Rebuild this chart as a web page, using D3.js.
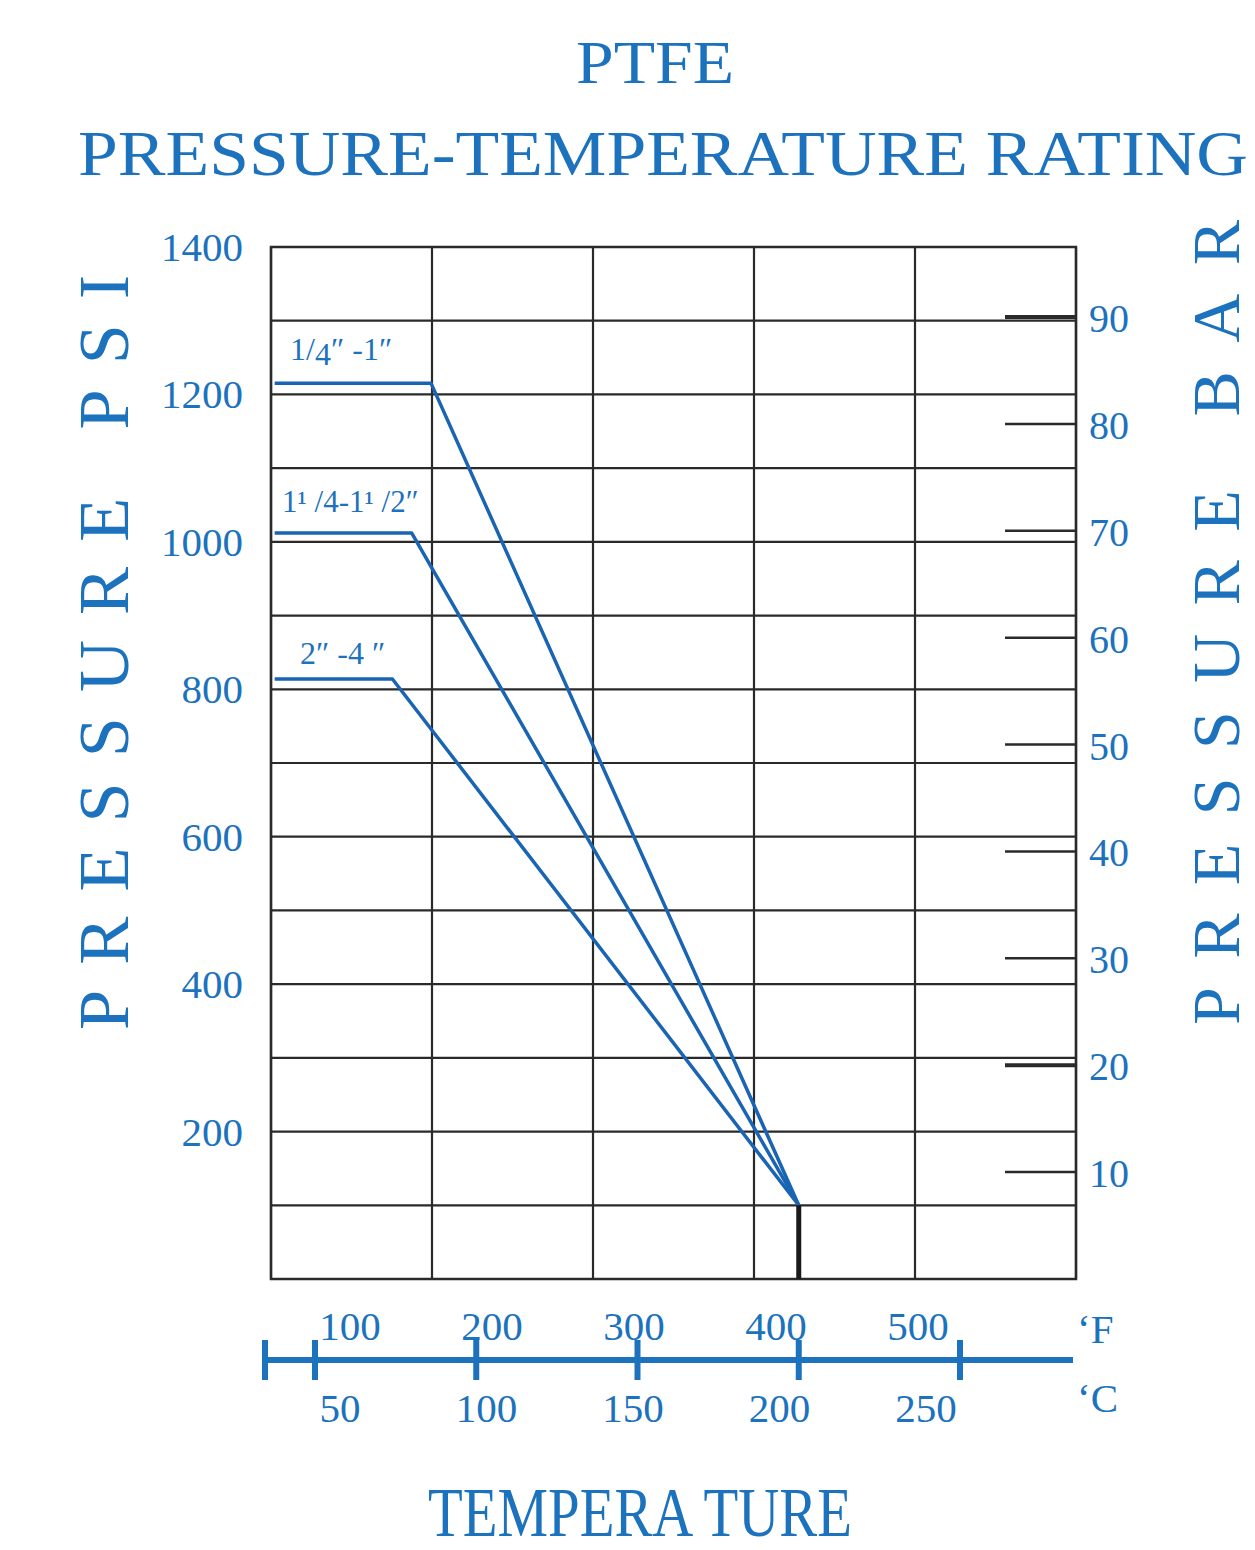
<!DOCTYPE html>
<html>
<head>
<meta charset="utf-8">
<script src="https://cdn.jsdelivr.net/npm/d3@7"></script>
<style>
  body { margin: 0; background: #fff; }
  text { font-family: "Liberation Serif", "DejaVu Serif", serif; }
</style>
</head>
<body>
<script>
// data
const psiTicks = [200, 400, 600, 800, 1000, 1200, 1400]
const barTicks = [10, 20, 30, 40, 50, 60, 70, 80, 90]
const celsiusTicks = [50, 100, 150, 200, 250]
const fahrenheitTicks = [100, 200, 300, 400, 500]
const seriesNames = ['1/4-1', '11/4-11/2', '2-4']
// each series: start temp (C), knee temp (C), end temp (C)
const seriesTemps = [
  [37.5, 86, 200],
  [37.5, 80, 200],
  [37.5, 74, 200]
]
const seriesPsi = [
  [1215, 1215, 100],
  [1012, 1012, 100],
  [814, 814, 100]
]
const psiPerBar = 14.5

const blue = '#1c72bd'
const lineBlue = '#1a64b4'
const gridCol = '#2a2a2a'

const W = 1255, H = 1550
const plot = {left: 271, right: 1076, top: 247, bottom: 1279}

const svg = d3.select('body').append('svg')
  .attr('width', W)
  .attr('height', H)

const y = d3.scaleLinear().domain([0, 1400]).range([plot.bottom, plot.top])
const xC = d3.scaleLinear().domain([50, 250]).range([315, 960])
// the printed labels sit on their own spacing, not on the ticks
const xCLab = d3.scaleLinear().domain([50, 250]).range([340, 926])
const xF = d3.scaleLinear().domain([100, 500]).range([350, 918])

// titles
svg.append('text')
  .attr('x', 655).attr('y', 83)
  .attr('text-anchor', 'middle')
  .attr('font-size', 62)
  .attr('fill', blue)
  .attr('textLength', 158).attr('lengthAdjust', 'spacingAndGlyphs')
  .text('PTFE')
svg.append('text')
  .attr('x', 78).attr('y', 175)
  .attr('font-size', 64)
  .attr('fill', blue)
  .attr('textLength', 1170).attr('lengthAdjust', 'spacingAndGlyphs')
  .text('PRESSURE-TEMPERATURE RATING')

// grid
const grid = svg.append('g')
grid.selectAll('line.h')
  .data(d3.range(0, 1401, 100))
  .enter().append('line')
  .attr('class', 'h')
  .attr('x1', plot.left).attr('x2', plot.right)
  .attr('y1', d => y(d)).attr('y2', d => y(d))
  .attr('stroke', gridCol).attr('stroke-width', 2.2)
const vcount = 5
grid.selectAll('line.v')
  .data(d3.range(vcount + 1))
  .enter().append('line')
  .attr('class', 'v')
  .attr('x1', d => plot.left + d * (plot.right - plot.left) / vcount)
  .attr('x2', d => plot.left + d * (plot.right - plot.left) / vcount)
  .attr('y1', plot.top).attr('y2', plot.bottom)
  .attr('stroke', gridCol).attr('stroke-width', 2.2)
grid.append('rect')
  .attr('x', plot.left).attr('y', plot.top)
  .attr('width', plot.right - plot.left).attr('height', plot.bottom - plot.top)
  .attr('fill', 'none').attr('stroke', gridCol).attr('stroke-width', 2.5)

// left psi labels
svg.selectAll('text.psi')
  .data(psiTicks)
  .enter().append('text')
  .attr('class', 'psi')
  .attr('x', 243).attr('y', d => y(d) + 14)
  .attr('text-anchor', 'end')
  .attr('font-size', 41)
  .attr('fill', blue)
  .text(d => d)

// right bar ticks
const yBar = b => y(b * psiPerBar)
svg.selectAll('line.bar')
  .data(barTicks)
  .enter().append('line')
  .attr('class', 'bar')
  .attr('x1', 1005).attr('x2', plot.right)
  .attr('y1', d => yBar(d)).attr('y2', d => yBar(d))
  .attr('stroke', gridCol)
  .attr('stroke-width', d => (d === 90 || d === 20) ? 4 : 2.5)
svg.selectAll('text.bar')
  .data(barTicks)
  .enter().append('text')
  .attr('class', 'bar')
  .attr('x', 1089).attr('y', d => yBar(d) + 15)
  .attr('font-size', 40)
  .attr('fill', blue)
  .text(d => d)

// axis titles
svg.append('text')
  .attr('transform', 'translate(128,1030) rotate(-90)')
  .attr('font-size', 72)
  .attr('fill', blue)
  .attr('textLength', 755).attr('lengthAdjust', 'spacing')
  .text('PRESSURE  PSI')
svg.append('text')
  .attr('transform', 'translate(1239,1025) rotate(-90)')
  .attr('font-size', 68)
  .attr('fill', blue)
  .attr('textLength', 805).attr('lengthAdjust', 'spacing')
  .text('PRESSURE  BAR')

// curves
const line = d3.line().x(d => xC(d[0])).y(d => y(d[1]))
seriesNames.forEach((name, i) => {
  const pts = seriesTemps[i].map((t, j) => [t, seriesPsi[i][j]])
  svg.append('path')
    .datum(pts)
    .attr('d', line)
    .attr('fill', 'none')
    .attr('stroke', lineBlue)
    .attr('stroke-width', 3.5)
    .attr('stroke-linejoin', 'round')
})
// end stem
svg.append('line')
  .attr('x1', xC(200)).attr('x2', xC(200))
  .attr('y1', y(100)).attr('y2', plot.bottom)
  .attr('stroke', '#1a1a1a').attr('stroke-width', 5)

// curve labels
const lab1 = svg.append('text').attr('x', 290).attr('y', 360)
  .attr('font-size', 32).attr('fill', blue)
lab1.append('tspan').text('1/')
lab1.append('tspan').attr('dy', 5).text('4')
lab1.append('tspan').attr('dy', -5).text('″ -1″')
svg.append('text').attr('x', 282).attr('y', 512)
  .attr('font-size', 31).attr('fill', blue)
  .text('1¹ /4-1¹ /2″')
svg.append('text').attr('x', 300).attr('y', 664)
  .attr('font-size', 32).attr('fill', blue)
  .text('2″ -4 ″')

// temperature axis
const axY = 1360
svg.append('line')
  .attr('x1', 265).attr('x2', 1073)
  .attr('y1', axY).attr('y2', axY)
  .attr('stroke', blue).attr('stroke-width', 6)
svg.append('line')
  .attr('x1', 265).attr('x2', 265)
  .attr('y1', axY - 20).attr('y2', axY + 20)
  .attr('stroke', blue).attr('stroke-width', 6)
svg.selectAll('line.ct')
  .data(celsiusTicks)
  .enter().append('line')
  .attr('class', 'ct')
  .attr('x1', d => xC(d)).attr('x2', d => xC(d))
  .attr('y1', axY - 20).attr('y2', axY + 20)
  .attr('stroke', blue).attr('stroke-width', 6)
svg.selectAll('text.ct')
  .data(celsiusTicks)
  .enter().append('text')
  .attr('class', 'ct')
  .attr('x', d => xCLab(d)).attr('y', 1422)
  .attr('text-anchor', 'middle')
  .attr('font-size', 41)
  .attr('fill', blue)
  .text(d => d)
svg.selectAll('text.ft')
  .data(fahrenheitTicks)
  .enter().append('text')
  .attr('class', 'ft')
  .attr('x', d => xF(d)).attr('y', 1340)
  .attr('text-anchor', 'middle')
  .attr('font-size', 41)
  .attr('fill', blue)
  .text(d => d)
svg.append('text').attr('x', 1077).attr('y', 1343)
  .attr('font-size', 41).attr('fill', blue).text('‘F')
svg.append('text').attr('x', 1077).attr('y', 1412)
  .attr('font-size', 41).attr('fill', blue).text('‘C')

svg.append('text')
  .attr('x', 428).attr('y', 1536)
  .attr('font-size', 70)
  .attr('fill', blue)
  .attr('textLength', 424).attr('lengthAdjust', 'spacingAndGlyphs')
  .text('TEMPERA TURE')
</script>
</body>
</html>
